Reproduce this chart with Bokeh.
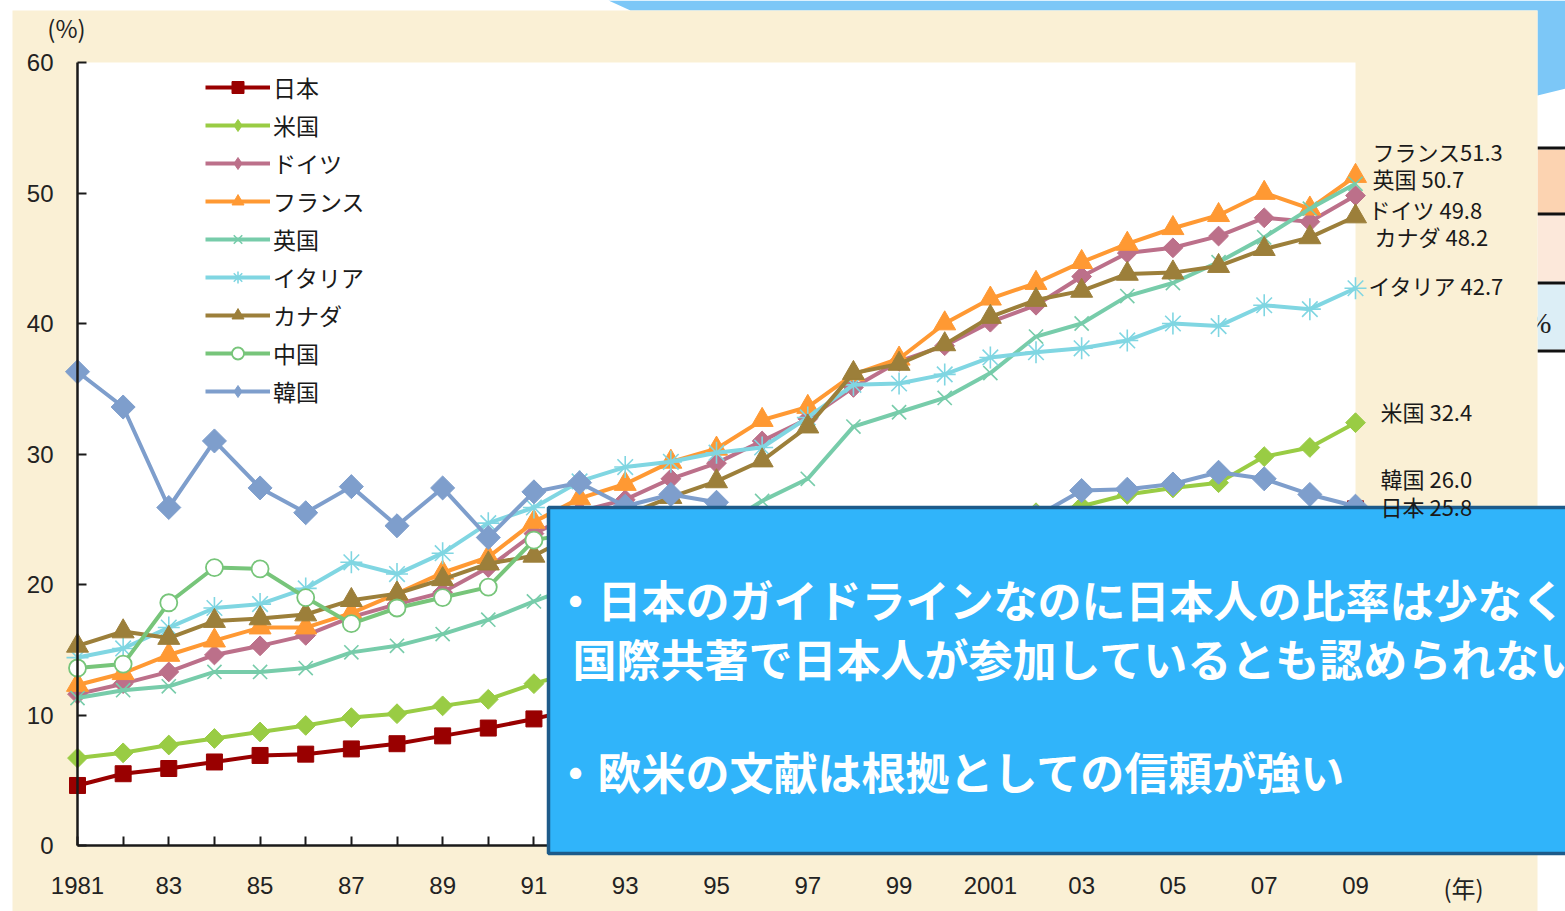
import math
from bokeh.plotting import figure
from bokeh.models import (Range1d, ColumnDataSource, LinearAxis, FixedTicker,
                          Legend, LegendItem, LabelSet, Label)
from bokeh.core.properties import value
from bokeh.embed import file_html
from bokeh.resources import INLINE

# ---------------- data ----------------
years = list(range(1981, 2010))

japan = [4.6, 5.5, 5.9, 6.4, 6.9, 7.0, 7.4, 7.8, 8.4, 9.0, 9.7,
         10.5, 11.4, 12.3, 13.2, 14.1, 15.0, 16.0, 17.0, 18.0, 19.0, 20.0,
         21.0, 22.0, 22.9, 23.7, 24.4, 25.1, 25.8]
usa = [6.7, 7.1, 7.7, 8.2, 8.7, 9.2, 9.8, 10.1, 10.7, 11.2, 12.4,
       13.4, 14.3, 15.2, 16.2, 17.1, 18.1, 19.1, 20.2, 21.4, 23.6, 25.5,
       26.0, 26.9, 27.4, 27.8, 29.8, 30.5, 32.4]
germany = [11.6, 12.4, 13.3, 14.6, 15.3, 16.1, 17.5, 18.5, 19.4, 21.3, 23.9,
           25.6, 26.5, 28.1, 29.3, 31.0, 32.7, 35.1, 37.1, 38.3, 40.1, 41.4,
           43.6, 45.4, 45.8, 46.7, 48.1, 47.8, 49.8]
france = [12.3, 13.2, 14.6, 15.7, 16.7, 16.7, 17.8, 19.3, 20.9, 22.1, 24.8,
          26.6, 27.7, 29.4, 30.4, 32.6, 33.6, 36.1, 37.3, 40.0, 41.9, 43.1,
          44.7, 46.1, 47.3, 48.3, 50.0, 48.8, 51.3]
uk = [11.3, 11.9, 12.2, 13.3, 13.3, 13.6, 14.8, 15.3, 16.2, 17.3, 18.7,
      20.0, 21.3, 22.7, 24.2, 26.4, 28.1, 32.1, 33.2, 34.3, 36.2, 39.0,
      40.0, 42.1, 43.1, 44.7, 46.6, 48.8, 50.7]
italy = [14.4, 15.1, 16.7, 18.2, 18.5, 19.7, 21.7, 20.8, 22.4, 24.7, 25.9,
         27.9, 29.0, 29.4, 30.1, 30.5, 32.8, 35.3, 35.4, 36.1, 37.4, 37.8,
         38.1, 38.7, 40.0, 39.8, 41.4, 41.1, 42.7]
canada = [15.3, 16.4, 15.9, 17.2, 17.4, 17.7, 18.8, 19.3, 20.4, 21.6, 22.2,
          24.0, 25.3, 26.7, 27.9, 29.5, 32.1, 36.2, 36.9, 38.4, 40.5, 41.8,
          42.5, 43.8, 43.9, 44.4, 45.7, 46.6, 48.2]
china = [13.6, 13.9, 18.6, 21.3, 21.2, 19.0, 17.0, 18.2, 19.0, 19.8, 23.4,
         24.0, 24.4, 24.5, 24.2, 23.8, 24.0, 24.2, 24.0, 23.6, 23.2, 22.8,
         22.6, 22.3, 22.0, 21.8, 21.6, 21.4, 21.8]
korea = [36.3, 33.6, 25.9, 31.0, 27.4, 25.5, 27.5, 24.5, 27.4, 23.6, 27.1,
         27.8, 26.0, 26.9, 26.3, 24.3, 24.0, 24.4, 24.2, 24.5, 24.3, 25.2,
         27.2, 27.3, 27.7, 28.6, 28.1, 26.9, 26.0]

names = ["日本", "米国", "ドイツ", "フランス", "英国", "イタリア", "カナダ", "中国", "韓国"]
series = [japan, usa, germany, france, uk, italy, canada, china, korea]

y_ticks = [0, 10, 20, 30, 40, 50, 60]
x_major = list(range(1981, 2010, 2))
x_minor = list(range(1982, 2009, 2))
x_tick_labels = ["1981", "83", "85", "87", "89", "91", "93", "95", "97", "99",
                 "2001", "03", "05", "07", "09"]

# end-of-line labels (which series, in order of display)
end_label_series = ["フランス", "英国", "ドイツ", "カナダ", "イタリア", "米国", "韓国", "日本"]

box_lines = ["・日本のガイドラインなのに日本人の比率は少なく，",
             "国際共著で日本人が参加しているとも認められない",
             "・欧米の文献は根拠としての信頼が強い"]

# ---------------- styles ----------------
colors = {"日本": "#990000", "米国": "#99CC44", "ドイツ": "#BC708A", "フランス": "#FF9933",
          "英国": "#77CCAA", "イタリア": "#80D6E2", "カナダ": "#9C7F3A", "中国": "#77C57A",
          "韓国": "#7E9ECC"}
# (marker in plot, size, angle, marker used in the legend)
markers = {"日本": ("square", 16, 0.0, "square"),
           "米国": ("square", 14, math.pi / 4, "diamond"),
           "ドイツ": ("square", 14, math.pi / 4, "diamond"),
           "フランス": ("triangle", 22, 0.0, "triangle"),
           "英国": ("x", 20, 0.0, "x"),
           "イタリア": ("asterisk", 22, 0.0, "asterisk"),
           "カナダ": ("triangle", 22, 0.0, "triangle"),
           "中国": ("circle", 17, 0.0, "circle"),
           "韓国": ("square", 17, math.pi / 4, "diamond")}

# end label placement: (x offset px from 2009, y offset px from value)
end_offsets = {"フランス": (17, 25), "英国": (17, 6), "ドイツ": (13, -13), "カナダ": (19, -20),
               "イタリア": (13, 3), "米国": (25, 12), "韓国": (25, 28), "日本": (25, 3)}

W, H = 1565, 911
PX_L, PX_R = 77, 1355      # pixel x of 1981 and 2009
PX_B, PX_T = 845, 62       # pixel y of 0 and 60


def dx(px):
    return 1981 + (px - PX_L) * 28.0 / (PX_R - PX_L)


def dy(py):
    return (PX_B - py) * 60.0 / (PX_B - PX_T)


CREAM = "#FAF0D5"
JP = "Noto Sans CJK JP"
NUMFONT = "Liberation Sans"

p = figure(width=W, height=H, x_range=Range1d(dx(0), dx(W)), y_range=Range1d(dy(H), dy(0)),
           output_backend="svg", toolbar_location=None, min_border=0,
           x_axis_location=None, y_axis_location=None, title=None)
p.min_border_left = p.min_border_right = p.min_border_top = p.min_border_bottom = 0
p.outline_line_color = None
p.background_fill_color = "white"
p.border_fill_color = "white"
for g in p.grid:
    g.visible = False

# ---------- slide decorations behind the chart ----------
deco = [(608, 0), (1565, 0), (1565, 88), (1537, 95), (1537, 10), (630, 10)]
p.patch([dx(a) for a, b in deco], [dy(b) for a, b in deco], fill_color="#7CC7F7",
        line_color=None, level="image")
cells = [(149, 213, "#FCD3B1"), (215, 281, "#FCE8DA"), (284, 349, "#DCEEF6")]
p.quad(left=[dx(1537)] * 3, right=[dx(1570)] * 3, top=[dy(c[0]) for c in cells],
       bottom=[dy(c[1]) for c in cells], fill_color=[c[2] for c in cells],
       line_color=None, level="image")
rules = [147.5, 213.5, 282.5, 350.5]
p.quad(left=[dx(1537)] * 4, right=[dx(1570)] * 4, top=[dy(r - 1.5) for r in rules],
       bottom=[dy(r + 1.5) for r in rules], fill_color="#111111", line_color=None,
       level="image")
p.text(x=[dx(1551)], y=[dy(322)], text=["%"], text_align="right", text_baseline="middle",
       text_font=value("Liberation Serif"), text_font_size="30px", text_color="#222222",
       level="image")

# cream chart background and white plot area
p.quad(left=[dx(12)], right=[dx(1537)], top=[dy(10)], bottom=[dy(H + 5)],
       fill_color=CREAM, line_color=None, level="image")
p.quad(left=[1981], right=[2009], top=[60], bottom=[0], fill_color="white",
       line_color=None, level="image")

# ---------- series ----------
items = []
for name, vals in zip(names, series):
    c = colors[name]
    src = ColumnDataSource(dict(x=years, y=vals))
    lr = p.line("x", "y", source=src, line_color=c, line_width=4)
    mk, sz, ang, lmk = markers[name]
    if name == "中国":
        style = dict(fill_color="white", line_color=c, line_width=1.8)
    elif mk in ("x", "asterisk"):
        style = dict(line_color=c, line_width=1.6)
    else:
        style = dict(fill_color=c, line_color=c, line_width=1)
    sr = p.scatter("x", "y", source=src, marker=mk, size=sz, angle=ang, **style)
    if lmk != mk:
        # hidden twin used only for the legend key (shows a diamond like the original)
        proxy = p.scatter("x", "y", source=src, marker=lmk, size=sz, visible=False, **style)
        items.append(LegendItem(label=name, renderers=[lr, proxy]))
    else:
        items.append(LegendItem(label=name, renderers=[lr, sr]))

# ---------- axes ----------
xaxis = LinearAxis(ticker=FixedTicker(ticks=x_major, minor_ticks=x_minor),
                   fixed_location=0, bounds=(1981, 2009),
                   major_label_overrides={y: t for y, t in zip(x_major, x_tick_labels)})
yaxis = LinearAxis(ticker=FixedTicker(ticks=y_ticks), fixed_location=1981, bounds=(0, 60))
for ax in (xaxis, yaxis):
    ax.axis_line_color = "#1a1a1a"
    ax.axis_line_width = 2.5
    ax.major_tick_line_color = "#1a1a1a"
    ax.major_tick_line_width = 2
    ax.major_tick_in = 9
    ax.major_tick_out = 0
    ax.major_label_text_font = NUMFONT
    ax.major_label_text_font_size = "24px"
    ax.major_label_text_color = "#222222"
xaxis.minor_tick_line_color = "#1a1a1a"
xaxis.minor_tick_line_width = 2
xaxis.minor_tick_in = 9
xaxis.minor_tick_out = 0
xaxis.major_label_standoff = 31
yaxis.minor_tick_line_color = None
yaxis.major_label_standoff = 24
p.add_layout(xaxis, "below")
p.add_layout(yaxis, "left")

# ---------- legend ----------
legend = Legend(items=items, location=(205, 503), glyph_width=65, glyph_height=30,
                label_height=30, spacing=4, label_standoff=3, padding=0, margin=0,
                label_text_font=JP, label_text_font_size="23px",
                label_text_color="#1a1a1a", border_line_color=None,
                background_fill_alpha=0, inactive_fill_alpha=0)
p.add_layout(legend, "center")

# ---------- unit labels ----------
p.add_layout(Label(x=dx(66), y=dy(27), text="(%)", text_align="center",
                   text_baseline="middle", text_font=JP, text_font_size="24px",
                   text_color="#222222"))
p.add_layout(Label(x=dx(1463), y=dy(887), text="(年)", text_align="center",
                   text_baseline="middle", text_font=JP, text_font_size="24px",
                   text_color="#222222"))

# ---------- end labels ----------
lookup = dict(zip(names, series))
el_text = [(n + ("" if n == "フランス" else " ") + f"{lookup[n][-1]:.1f}") for n in end_label_series]
el_src = ColumnDataSource(dict(
    x=[years[-1]] * len(end_label_series),
    y=[lookup[n][-1] for n in end_label_series],
    text=el_text,
    xo=[end_offsets[n][0] for n in end_label_series],
    yo=[end_offsets[n][1] for n in end_label_series]))
p.add_layout(LabelSet(x="x", y="y", text="text", x_offset="xo", y_offset="yo", source=el_src,
                      text_font=value(JP), text_font_size="22px", text_color="#1a1a1a",
                      text_baseline="middle", text_align="left"))

# ---------- overlay text box ----------
p.quad(left=[dx(548)], right=[dx(1580)], top=[dy(507)], bottom=[dy(853)],
       fill_color="#30B4FA", line_color="#1D5B8A", line_width=3.5, level="annotation")
p.text(x=[dx(553), dx(572), dx(553)], y=[dy(598), dy(657), dy(770)], text=box_lines,
       text_color="white", text_font=value(JP), text_font_size="44px",
       text_font_style="bold", text_baseline="middle", text_align="left",
       level="annotation")

open("out.html", "w").write(file_html(p, INLINE))
